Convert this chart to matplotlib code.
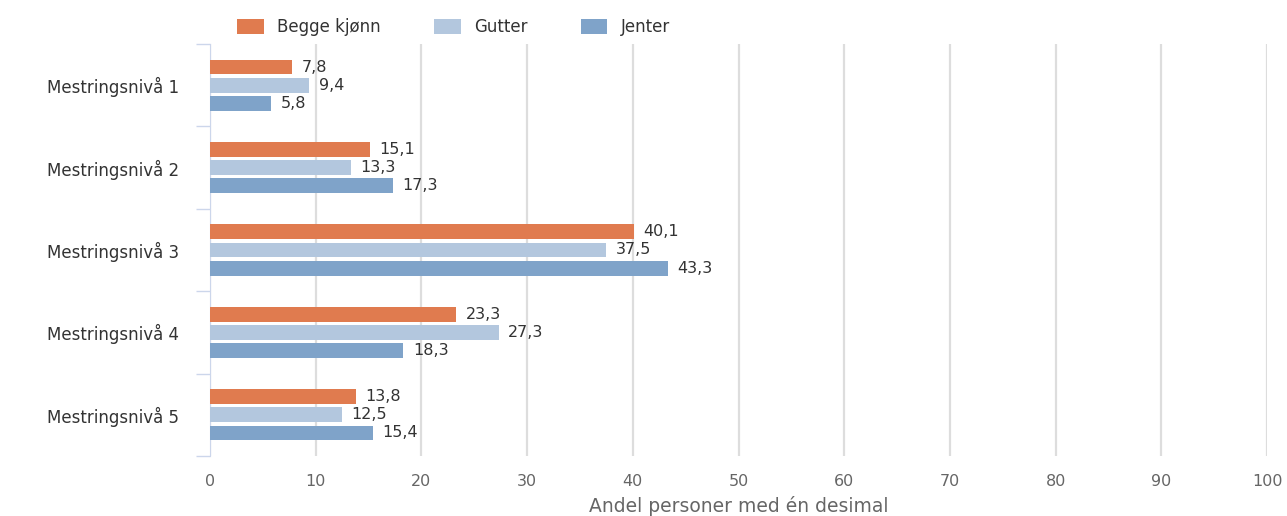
import matplotlib.pyplot as plt
import numpy as np

plt.rcParams['font.family'] = ['DejaVu Sans']

categories = ['Mestringsnivå 1', 'Mestringsnivå 2', 'Mestringsnivå 3',
              'Mestringsnivå 4', 'Mestringsnivå 5']
series_names = ['Begge kjønn', 'Gutter', 'Jenter']
begge = [7.8, 15.1, 40.1, 23.3, 13.8]
gutter = [9.4, 13.3, 37.5, 27.3, 12.5]
jenter = [5.8, 17.3, 43.3, 18.3, 15.4]
colors = ['#E07B4F', '#B3C7DE', '#7FA3C9']

text_col = '#666666'

fig = plt.figure(figsize=(12.87, 5.16), dpi=100)
ax = fig.add_axes([210 / 1287, 1 - 456 / 516, 1057 / 1287, 412 / 516])

y = np.arange(len(categories))
h = 0.18
off = 0.22
for i, (vals, name) in enumerate(zip([begge, gutter, jenter], series_names)):
    pos = y + (i - 1) * off
    ax.barh(pos, vals, height=h, color=colors[i], label=name, zorder=3)
    for p, v in zip(pos, vals):
        ax.text(v + 0.9, p, f'{v:.1f}'.replace('.', ','), va='center', ha='left',
                fontsize=11.5, color='#333333', zorder=4)

ax.set_xlim(0, 100)
ax.set_ylim(len(categories) - 0.5, -0.5)
ax.set_xticks(range(0, 101, 10))
ax.set_xticklabels([str(t) for t in range(0, 101, 10)], fontsize=11.5, color=text_col)
ax.set_yticks(y)
ax.set_yticklabels(categories, fontsize=12, color='#333333')
ax.tick_params(axis='y', length=0, pad=22)
ax.tick_params(axis='x', length=0, pad=13)
ax.set_yticks(np.arange(-0.5, len(categories)), minor=True)
ax.tick_params(axis='y', which='minor', length=10, color='#CCD6EB', width=1)

ax.grid(axis='x', color='#DDDDDD', linewidth=1.6, zorder=0)
for s in ['top', 'right', 'bottom']:
    ax.spines[s].set_visible(False)
ax.spines['left'].set_color('#CCD6EB')
ax.set_xlabel('Andel personer med én desimal', fontsize=13.5, color=text_col, labelpad=5)

fig.legend(loc='upper left', bbox_to_anchor=(222 / 1287, 1 - 3 / 516), ncol=3,
           frameon=False, fontsize=12, handlelength=1.6, handleheight=1.0,
           columnspacing=3.2, labelcolor='#333333')

fig.savefig('out.png', dpi=100)
